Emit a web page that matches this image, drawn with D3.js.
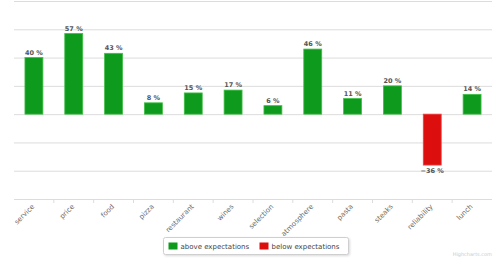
<!DOCTYPE html>
<html>
<head>
<meta charset="utf-8">
<script src="https://cdn.jsdelivr.net/npm/d3@7"></script>
<style>
  body { margin: 0; background: #fff; }
  svg { display: block; font-family: "DejaVu Sans", sans-serif; }
  .grid line { stroke: #dcdcdc; stroke-width: 1; }
  .grid path { display: none; }
  .x-axis line { stroke: #dcdcdc; }
  .x-axis text { fill: #6a6a6a; font-size: 7px; }
  .bar-value { fill: #555; font-size: 6.5px; font-weight: bold; }
  .legend text { fill: #444; font-size: 7px; }
</style>
</head>
<body>
<div id="chart"></div>
<script>
  const CATEGORIES = ['service', 'price', 'food', 'pizza', 'restaurant', 'wines',
    'selection', 'atmosphere', 'pasta', 'steaks', 'reliability', 'lunch'];
  const VALUES = [40, 57, 43, 8, 15, 17, 6, 46, 11, 20, -36, 14];
  const Y_TICKS = [-60, -40, -20, 0, 20, 40, 60, 80];
  const SERIES = ['above expectations', 'below expectations'];

  const COLORS = { pos: '#0e9a1c', neg: '#dc0e0e' };
  const BORDERS = { pos: '#3fbf45', neg: '#f04040' };

  const W = 500, H = 258;
  const margin = { top: 1, right: 8, bottom: 59, left: 14 };
  const chartW = W - margin.left - margin.right;
  const chartH = H - margin.top - margin.bottom;

  const svg = d3.select('#chart').append('svg')
    .attr('width', W).attr('height', H);

  const g = svg.append('g')
    .attr('transform', `translate(${margin.left},${margin.top})`);

  const x = d3.scaleBand().domain(CATEGORIES).range([0, chartW]).paddingInner(0.55).paddingOuter(0.275);
  const xTicks = d3.scaleBand().domain(CATEGORIES).range([0, chartW]);
  const y = d3.scaleLinear().domain([-60, 80]).range([chartH, 0]);

  // grid
  g.append('g').attr('class', 'grid')
    .call(d3.axisLeft(y).tickValues(Y_TICKS).tickSize(-chartW).tickFormat(''));

  // x axis: ticks at category boundaries, labels rotated
  const xAxis = g.append('g').attr('class', 'x-axis')
    .attr('transform', `translate(0,${chartH})`);
  xAxis.selectAll('line.tick-b')
    .data(CATEGORIES.slice(1))
    .enter().append('line')
    .attr('x1', d => xTicks(d)).attr('x2', d => xTicks(d))
    .attr('y1', 0).attr('y2', 4);
  xAxis.selectAll('text')
    .data(CATEGORIES)
    .enter().append('text')
    .attr('text-anchor', 'end')
    .attr('transform', d => `translate(${xTicks(d) + xTicks.bandwidth() / 2 + 1},8) rotate(-45)`)
    .text(d => d);

  const rows = VALUES.map((v, i) => ({ cat: CATEGORIES[i], v }));

  // bars
  g.selectAll('.bar')
    .data(rows)
    .enter().append('rect')
    .attr('class', 'bar')
    .attr('x', d => x(d.cat))
    .attr('y', d => y(Math.max(0, d.v)))
    .attr('width', x.bandwidth())
    .attr('height', d => Math.abs(y(d.v) - y(0)))
    .attr('fill', d => d.v >= 0 ? COLORS.pos : COLORS.neg)
    .attr('stroke', d => d.v >= 0 ? BORDERS.pos : BORDERS.neg)
    .attr('stroke-width', 0.8);

  g.selectAll('.bar-value')
    .data(rows)
    .enter().append('text')
    .attr('class', 'bar-value')
    .attr('text-anchor', 'middle')
    .attr('x', d => x(d.cat) + x.bandwidth() / 2)
    .attr('y', d => d.v >= 0 ? y(d.v) - 3 : y(d.v) + 8)
    .text(d => (d.v < 0 ? '−' + Math.abs(d.v) : d.v) + ' %');

  // legend
  const legend = svg.append('g').attr('class', 'legend')
    .attr('transform', 'translate(163.5,237.5)');
  legend.append('rect')
    .attr('width', 185).attr('height', 17).attr('rx', 2)
    .attr('fill', '#fff').attr('stroke', '#cfcfcf')
    .style('filter', 'drop-shadow(1px 1px 1px rgba(0,0,0,0.15))');
  SERIES.forEach((s, i) => {
    const e = legend.append('g').attr('transform', `translate(${5 + i * 91},0)`);
    e.append('rect').attr('x', 0).attr('y', 5).attr('width', 9).attr('height', 7)
      .attr('fill', i === 0 ? COLORS.pos : COLORS.neg);
    e.append('text').attr('x', 12).attr('y', 11.5).text(s);
  });

  svg.append('text')
    .attr('x', 492).attr('y', 256).attr('text-anchor', 'end')
    .style('font-size', '5px').style('fill', '#ccc')
    .text('Highcharts.com');
</script>
</body>
</html>
